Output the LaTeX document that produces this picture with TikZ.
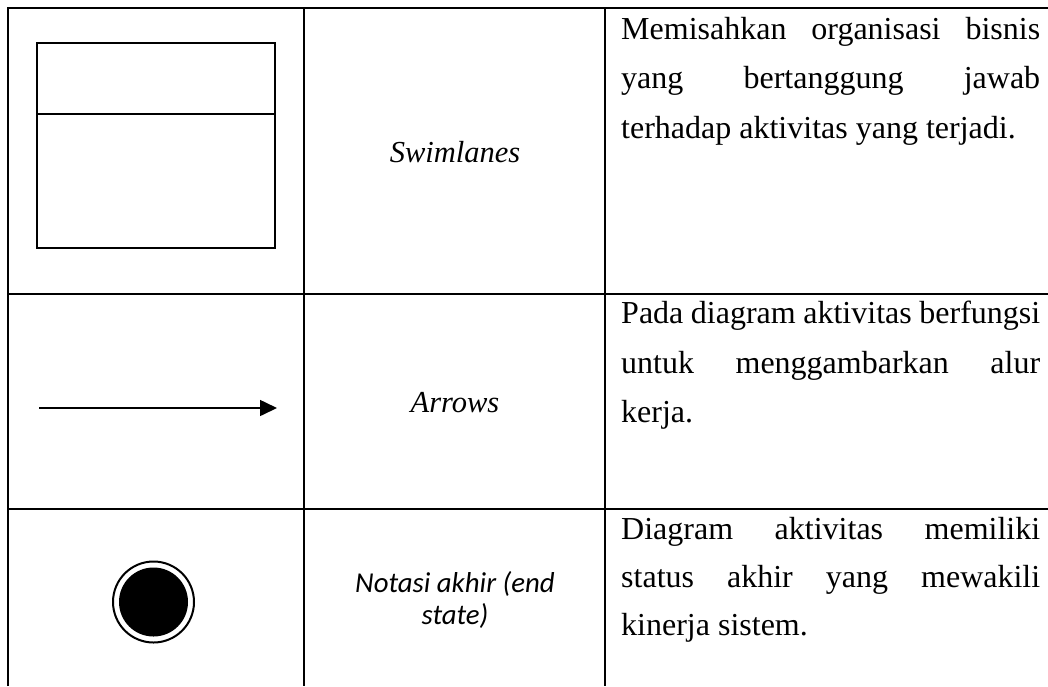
\documentclass[tikz,border=0pt]{standalone}
\usepackage{fontspec}
\setmainfont{Liberation Serif}
\newfontfamily\calibri{Carlito}
\usetikzlibrary{arrows.meta}
\tikzset{
  gridline/.style={line width=1.2pt, black},
  desctext/.style={anchor=base west, inner sep=0pt, font=\fontsize{32}{36}\selectfont},
  namelbl/.style={anchor=base, inner sep=0pt, font=\fontsize{30.5}{36}\selectfont\itshape},
  cnamelbl/.style={anchor=base, inner sep=0pt, font=\fontsize{28.8}{36}\calibri\itshape},
  symline/.style={line width=2.2pt, black},
}
\newcommand{\jline}[1]{\makebox[419pt][s]{#1}}
\begin{document}
\begin{tikzpicture}[x=1pt,y=-1pt]
\useasboundingbox (0,0) rectangle (1048,686);
% table grid
\draw[gridline] (8,686) -- (8,8) -- (1048,8);
\draw[gridline] (304,8) -- (304,686);
\draw[gridline] (605,8) -- (605,686);
\draw[gridline] (8,294) -- (1048,294);
\draw[gridline] (8,509) -- (1048,509);
% swimlanes symbol
\node[symline, draw, minimum width=238pt, minimum height=205pt, inner sep=0pt] (lane) at (156,145.5) {};
\coordinate (ld) at (37,114);
\coordinate (rd) at (275,114);
\draw[symline] (ld) -- (rd);
% arrow symbol
\coordinate (a1) at (39,408);
\coordinate (a2) at (277,408);
\draw[line width=1.6pt, -{Triangle[length=17pt,width=16pt]}] (a1) -- (a2);
% end state symbol
\node[circle, draw, line width=2pt, minimum size=81pt, inner sep=0pt] (endo) at (153.5,602) {};
\node[circle, fill=black, minimum size=69pt, inner sep=0pt] (endi) at (153.5,602) {};
% names
\node[namelbl] (n1) at (455,162) {Swimlanes};
\node[namelbl] (n2) at (455,412) {Arrows};
\node[cnamelbl] (n3a) at (455,592) {Notasi akhir (end};
\node[cnamelbl] (n3b) at (455,624) {state)};
% descriptions
\node[desctext] (d1a) at (621,39) {\jline{Memisahkan organisasi bisnis}};
\node[desctext] (d1b) at (621,88) {\jline{yang bertanggung jawab}};
\node[desctext] (d1c) at (621,138) {terhadap aktivitas yang terjadi.};
\node[desctext] (d2a) at (621,323) {\jline{Pada diagram aktivitas berfungsi}};
\node[desctext] (d2b) at (621,373) {\jline{untuk menggambarkan alur}};
\node[desctext] (d2c) at (621,422) {kerja.};
\node[desctext] (d3a) at (621,539) {\jline{Diagram aktivitas memiliki}};
\node[desctext] (d3b) at (621,587) {\jline{status akhir yang mewakili}};
\node[desctext] (d3c) at (621,635) {kinerja sistem.};
\end{tikzpicture}
\end{document}
